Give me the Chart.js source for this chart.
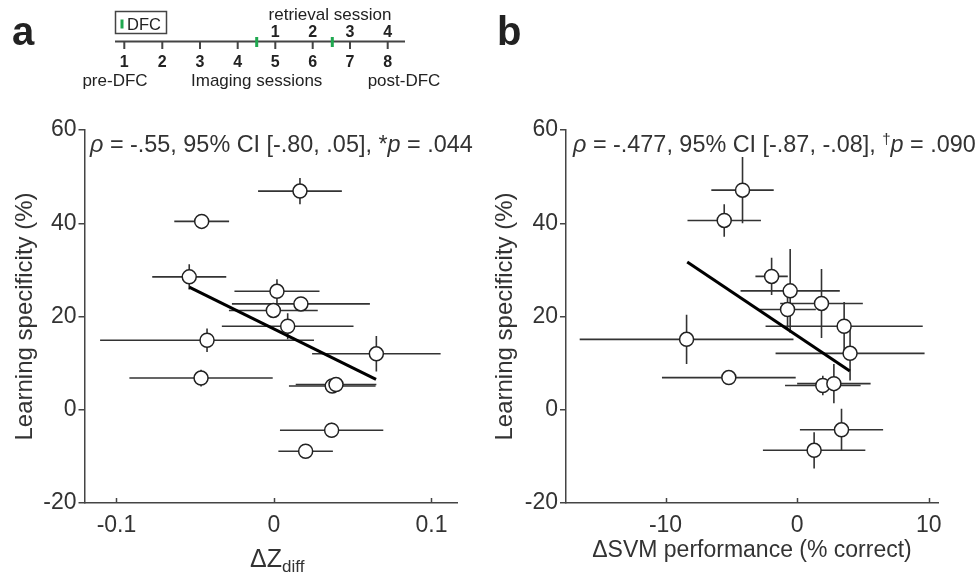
<!DOCTYPE html>
<html>
<head>
<meta charset="utf-8">
<script src="https://cdn.jsdelivr.net/npm/chart.js@4"></script>
<style>
body { margin: 0; background: #fff; }
#wrap { position: relative; width: 979px; height: 579px; overflow: hidden; font-family: "Liberation Sans", Arial, sans-serif; color: #222; }
.panel { position: absolute; top: 0; height: 579px; }
.note { position: absolute; top: 133px; font-size: 23.4px; line-height: 23.4px; white-space: nowrap; color: #333; }
.note .sup { font-size: 15px; position: relative; top: -8px; }
.xt { position: absolute; top: 546px; left: 250px; font-size: 25px; line-height: 25px; white-space: nowrap; color: #333; }
.xt .sub { font-size: 17px; position: relative; top: 5px; }
</style>
</head>
<body>
<div id="wrap">
  <div class="panel" style="left:0;width:489px"><canvas id="chartA" width="489" height="579"></canvas></div>
  <div class="panel" style="left:489px;width:490px"><canvas id="chartB" width="490" height="579"></canvas></div>
  <div class="note" style="left:90px"><i>ρ</i> = -.55, 95% CI [-.80, .05], *<i>p</i> = .044</div>
  <div class="note" style="left:573px"><i>ρ</i> = -.477, 95% CI [-.87, -.08], <span class="sup">†</span><i>p</i> = .090</div>
  <div class="xt">ΔZ<span class="sub">diff</span></div>
</div>
<script>
// tick values
var tickYs = [-20, 0, 20, 40, 60];
var tickZ = [-0.1, 0, 0.1];
var tickSvm = [-10, 0, 10];

// panel a: delta Z_diff vs learning specificity
var zDiff    = [0.0165, -0.0459, -0.0538, 0.0019, 0.0171, -0.0004, 0.0087, -0.0425, 0.065, -0.0463, 0.037, 0.0394, 0.0366, 0.0201];
var zDiffErr = [0.0266, 0.0174, 0.0235, 0.027, 0.0438, 0.0282, 0.0418, 0.0679, 0.0408, 0.0455, 0.0275, 0.0256, 0.0328, 0.0173];
var specA    = [46.9, 40.4, 28.5, 25.4, 22.7, 21.3, 17.9, 14.9, 12.0, 6.8, 5.1, 5.4, -4.4, -8.9];
var specAErr = [2.8, 1.0, 2.7, 2.6, 1.0, 1.5, 2.8, 2.5, 3.8, 1.8, 1.5, 1.0, 1.6, 1.0];
var fitAx = [-0.0538, 0.0648];
var fitAy = [26.3, 6.5];

// panel b: delta SVM performance vs learning specificity
var svm      = [-4.15, -5.54, -1.94, -0.53, 1.85, -0.73, 3.57, -8.40, 4.02, -5.19, 1.95, 2.79, 3.37, 1.29];
var svmErr   = [2.37, 2.79, 1.23, 3.77, 3.14, 2.15, 5.97, 8.12, 5.66, 5.08, 2.87, 2.79, 3.16, 3.89];
var specB    = [47.1, 40.6, 28.6, 25.5, 22.8, 21.5, 17.9, 15.1, 12.1, 6.9, 5.2, 5.6, -4.3, -8.7];
var specBErr = [7.1, 3.5, 4.0, 9.0, 7.4, 4.4, 5.2, 5.3, 5.8, 1.0, 2.1, 4.2, 4.5, 3.9];
var fitBx = [-8.35, 4.0];
var fitBy = [31.7, 8.3];

var FONT = '"Liberation Sans", Arial, sans-serif';
var AXIS = '#444';

function pts(xs, ys) {
  return xs.map(function (v, i) { return { x: v, y: ys[i] }; });
}

var errorBars = {
  id: 'errorBars',
  beforeDatasetsDraw: function (chart, args, o) {
    var ctx = chart.ctx, x = chart.scales.x, y = chart.scales.y;
    ctx.save();
    ctx.strokeStyle = '#333';
    ctx.lineWidth = 1.6;
    o.xs.forEach(function (v, i) {
      var px = x.getPixelForValue(v), py = y.getPixelForValue(o.ys[i]);
      ctx.beginPath();
      ctx.moveTo(x.getPixelForValue(v - o.xe[i]), py);
      ctx.lineTo(x.getPixelForValue(v + o.xe[i]), py);
      ctx.moveTo(px, y.getPixelForValue(o.ys[i] - o.ye[i]));
      ctx.lineTo(px, y.getPixelForValue(o.ys[i] + o.ye[i]));
      ctx.stroke();
    });
    ctx.restore();
  },
  afterDraw: function (chart) {
    // x ticks point inward
    var ctx = chart.ctx, x = chart.scales.x, bottom = chart.chartArea.bottom;
    ctx.save();
    ctx.strokeStyle = AXIS;
    ctx.lineWidth = 1.5;
    x.ticks.forEach(function (t) {
      var px = Math.round(x.getPixelForValue(t.value)) + 0.5;
      ctx.beginPath();
      ctx.moveTo(px, bottom);
      ctx.lineTo(px, bottom - 5);
      ctx.stroke();
    });
    ctx.restore();
  }
};

var panelLetter = {
  id: 'panelLetter',
  afterDraw: function (chart, args, o) {
    var ctx = chart.ctx;
    ctx.save();
    ctx.fillStyle = '#222';
    ctx.font = 'bold 40px ' + FONT;
    ctx.textBaseline = 'alphabetic';
    ctx.fillText(o.text, o.x, 45);
    ctx.restore();
  }
};

// session timeline above panel a
var timeline = {
  id: 'timeline',
  afterDraw: function (chart) {
    var ctx = chart.ctx;
    var tx = [124.3, 162.3, 200, 237.7, 275.3, 312.7, 350, 387.7];
    ctx.save();
    ctx.strokeStyle = '#444';
    ctx.lineWidth = 2;
    ctx.beginPath();
    ctx.moveTo(115, 41.5); ctx.lineTo(405, 41.5);
    tx.forEach(function (v) { ctx.moveTo(v, 41.5); ctx.lineTo(v, 49); });
    ctx.stroke();
    ctx.lineWidth = 1.5;
    ctx.strokeRect(115.5, 11.5, 51, 22);
    ctx.strokeStyle = '#1fa84f';
    ctx.lineWidth = 3;
    ctx.beginPath();
    ctx.moveTo(256.7, 37); ctx.lineTo(256.7, 47);
    ctx.moveTo(332.3, 37); ctx.lineTo(332.3, 47);
    ctx.moveTo(122, 19.5); ctx.lineTo(122, 28.5);
    ctx.stroke();

    ctx.fillStyle = '#222';
    ctx.textAlign = 'center';
    ctx.textBaseline = 'alphabetic';
    ctx.font = 'bold 16px ' + FONT;
    tx.forEach(function (v, i) { ctx.fillText(String(i + 1), v, 66.5); });
    tx.slice(4).forEach(function (v, i) { ctx.fillText(String(i + 1), v, 36.5); });
    ctx.font = '17px ' + FONT;
    ctx.fillText('pre-DFC', 115, 86);
    ctx.fillText('Imaging sessions', 256.7, 86);
    ctx.fillText('post-DFC', 404, 86);
    ctx.fillText('retrieval session', 330, 20);
    ctx.textAlign = 'left';
    ctx.font = '16.5px ' + FONT;
    ctx.fillText('DFC', 127, 30);
    ctx.restore();
  }
};

function makeChart(id, cfg) {
  return new Chart(document.getElementById(id), {
    type: 'scatter',
    data: {
      datasets: [
        {
          data: pts(cfg.xs, cfg.ys),
          pointRadius: 7,
          pointHoverRadius: 7,
          backgroundColor: '#fff',
          borderColor: '#222',
          borderWidth: 1.5
        },
        {
          type: 'line',
          data: pts(cfg.fitX, cfg.fitY),
          borderColor: '#000',
          borderWidth: 3,
          pointRadius: 0,
          fill: false
        }
      ]
    },
    options: {
      responsive: false,
      animation: false,
      events: [],
      layout: { padding: cfg.padding },
      plugins: {
        legend: { display: false },
        tooltip: { enabled: false },
        errorBars: { xs: cfg.xs, ys: cfg.ys, xe: cfg.xe, ye: cfg.ye },
        panelLetter: { text: cfg.letter, x: cfg.letterX }
      },
      scales: {
        x: {
          type: 'linear',
          min: cfg.xMin,
          max: cfg.xMax,
          afterBuildTicks: function (s) { s.ticks = cfg.xTicks.map(function (v) { return { value: v }; }); },
          afterFit: function (s) { s.height = 76; },
          grid: { drawOnChartArea: false, drawTicks: false },
          border: { color: AXIS, width: 1.5 },
          ticks: { padding: 9, color: '#333', font: { family: FONT, size: 23 } },
          title: {
            display: cfg.xTitle !== '',
            text: cfg.xTitle,
            color: '#333',
            font: { family: FONT, size: 23 },
            padding: { bottom: 15 }
          }
        },
        y: {
          type: 'linear',
          min: -20,
          max: 60,
          afterBuildTicks: function (s) { s.ticks = tickYs.map(function (v) { return { value: v }; }); },
          afterFit: function (s) { s.width = cfg.yWidth; },
          grid: { drawOnChartArea: false, drawTicks: true, tickLength: 6, color: AXIS, lineWidth: 1.5 },
          border: { color: AXIS, width: 1.5 },
          ticks: { padding: 2, color: '#333', font: { family: FONT, size: 23 } },
          title: {
            display: true,
            text: 'Learning specificity (%)',
            color: '#333',
            font: { family: FONT, size: 24 },
            padding: { top: cfg.yTitlePad }
          }
        }
      }
    },
    plugins: cfg.extra.concat([errorBars, panelLetter])
  });
}

var chartA = makeChart('chartA', {
  xs: zDiff, ys: specA, xe: zDiffErr, ye: specAErr,
  fitX: fitAx, fitY: fitAy,
  xMin: -0.1203, xMax: 0.1162, xTicks: tickZ, xTitle: '',
  padding: { left: 0, top: 130, right: 32, bottom: 0 },
  yWidth: 84.5, yTitlePad: 10.5,
  letter: 'a', letterX: 12,
  extra: [timeline]
});

var chartB = makeChart('chartB', {
  xs: svm, ys: specB, xe: svmErr, ye: specBErr,
  fitX: fitBx, fitY: fitBy,
  xMin: -17.56, xMax: 10.7, xTicks: tickSvm, xTitle: 'ΔSVM performance (% correct)',
  padding: { left: 0, top: 130, right: 41, bottom: 0 },
  yWidth: 77, yTitlePad: 2,
  letter: 'b', letterX: 8,
  extra: []
});
</script>
</body>
</html>
